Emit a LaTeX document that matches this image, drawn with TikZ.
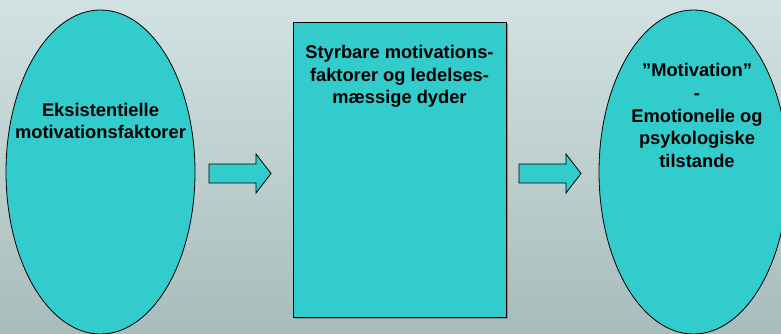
\documentclass[tikz,border=0pt]{standalone}
\usepackage{fontspec}
\setmainfont{Liberation Sans}
\usetikzlibrary{shapes.geometric}
\definecolor{bgtop}{HTML}{D2E2E2}
\definecolor{bgbot}{HTML}{A8BCBC}
\definecolor{cyanfill}{HTML}{33CCCC}
\begin{document}
\begin{tikzpicture}[x=1pt,y=-1pt,
  shapefill/.style={draw=black, fill=cyanfill, line width=0.8pt},
  lbl/.style={font=\fontsize{18.3}{22.5}\selectfont\bfseries, align=center, inner sep=0pt, text=black}]
\useasboundingbox (0,0) rectangle (781,334);
\shade[top color=bgtop, bottom color=bgbot] (0,0) rectangle (781,334);
% left ellipse
\node[shapefill, ellipse, minimum width=189pt, minimum height=324pt, inner sep=0pt] (left) at (100.5,172) {};
\node[lbl, anchor=base] (lefttxt) at (100.5,139) {Eksistentielle\\motivationsfaktorer};
% middle box
\fill[black!45] (295,24) rectangle (508,319);
\node[shapefill, rectangle, minimum width=213pt, minimum height=295pt, inner sep=0pt] (mid) at (399.5,169.5) {};
\node[lbl, anchor=base] (midtxt) at (399.5,104) {Styrbare motivations-\\faktorer og ledelses-\\mæssige dyder};
% right ellipse
\node[shapefill, ellipse, minimum width=189pt, minimum height=324pt, inner sep=0pt] (right) at (693.5,172) {};
\node[lbl, anchor=base] (righttxt) at (697,167) {”Motivation”\\-\\Emotionelle og\\psykologiske\\tilstande};
% block arrows
\draw[shapefill, line join=miter] (209,164) -- (256,164) -- (256,154) -- (271,173.5) -- (256,193) -- (256,183) -- (209,183) -- cycle;
\draw[shapefill, line join=miter] (519,164) -- (566,164) -- (566,154) -- (581,173.5) -- (566,193) -- (566,183) -- (519,183) -- cycle;
\end{tikzpicture}
\end{document}
